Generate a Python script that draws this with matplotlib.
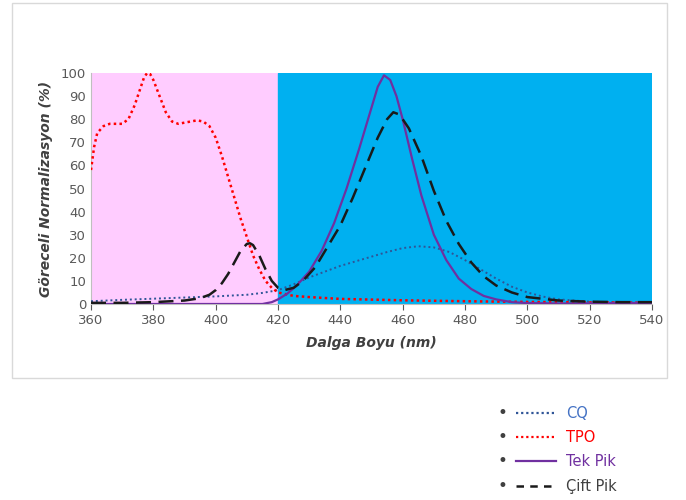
import matplotlib.pyplot as plt
from matplotlib.patches import Rectangle
from matplotlib.lines import Line2D

# Dalga boyu (nm) ve normalize edilmiş şiddet (%)
tpo_x = [360, 361, 362, 364, 366, 368, 370, 372, 374, 376, 377, 378, 379, 380, 382, 384, 386, 388,
         390, 392, 394, 396, 398, 400, 402, 404, 406, 408, 410, 412, 414, 416, 418, 420, 425,
         430, 440, 460, 480, 500, 520, 540]
tpo_y = [58, 68, 74, 77, 78, 78, 78, 80, 86, 94, 98, 100, 99.5, 97, 90, 83, 79, 78,
         78.5, 79, 79.5, 79, 77, 72, 64, 55, 46, 37, 29, 21, 15, 10, 7, 5, 3.5,
         3, 2.2, 1.6, 1.2, 0.9, 0.7, 0.5]

cq_x = [360, 370, 380, 390, 400, 410, 415, 420, 425, 430, 435, 440, 445, 450, 455, 460, 465, 470,
        475, 480, 485, 490, 495, 500, 505, 510, 520, 530, 540]
cq_y = [1.2, 1.8, 2.3, 2.8, 3.3, 4.0, 4.8, 6.0, 8.5, 11.5, 14, 16.5, 18.5, 20.5, 22.5, 24.2, 25, 24.5,
        22.5, 19, 15, 11, 7.5, 5, 3.2, 2, 1, 0.7, 0.5]

tek_x = [360, 380, 400, 410, 415, 418, 420, 423, 426, 430, 434, 438, 442, 446, 450, 452, 454, 456,
         458, 460, 463, 466, 470, 474, 478, 482, 486, 490, 495, 500, 510, 540]
tek_y = [0, 0, 0, 0, 0, 0.8, 2, 4.5, 8, 14, 23, 35, 50, 67, 85, 94, 99, 97,
         90, 80, 63, 47, 30, 19, 11, 6.5, 3.5, 2, 0.8, 0.4, 0.2, 0.5]

cift_x = [360, 370, 380, 390, 395, 398, 400, 402, 404, 406, 408, 410, 411, 412, 414, 416, 418, 420,
          422, 425, 428, 432, 436, 440, 444, 448, 452, 455, 457, 459, 462, 466, 470, 474, 478,
          482, 486, 490, 495, 500, 510, 520, 530, 540]
cift_y = [0.5, 0.5, 0.8, 1.5, 2.5, 4, 6, 9, 13, 18, 23, 26, 26.3, 25.5, 21, 15, 10, 7,
          6, 7, 10, 16, 25, 34, 46, 59, 72, 80, 83, 82, 76, 64, 49, 36, 26,
          18, 12, 8, 5, 3, 1.5, 1, 0.8, 0.8]

fig = plt.figure(figsize=(6.86, 5.0), dpi=100)
fig.patch.set_facecolor('white')

# çerçeve
fig.patches.append(Rectangle((12 / 686, 1 - 378 / 500), 655 / 686, 375 / 500,
                             transform=fig.transFigure, facecolor='none',
                             edgecolor='#d9d9d9', linewidth=1, zorder=-1))

ax = fig.add_axes([91 / 686, 1 - 304 / 500, 561 / 686, 231 / 500])
ax.set_xlim(360, 540)
ax.set_ylim(0, 100)

ax.axvspan(360, 420, color='#FFCCFF', zorder=0)
ax.axvspan(420, 540, color='#00B0F0', zorder=0)

ax.plot(cq_x, cq_y, color='#2F5597', linestyle=(0, (1, 1.5)), linewidth=1.4, zorder=3)
ax.plot(tpo_x, tpo_y, color='#FF0000', linestyle=(0, (1, 1.3)), linewidth=1.8, zorder=3)
ax.plot(tek_x, tek_y, color='#7030A0', linewidth=1.6, zorder=4)
ax.plot(cift_x, cift_y, color='#1a1a1a', linestyle=(0, (6, 3)), linewidth=1.8, zorder=5)

ax.set_xticks(range(360, 541, 20))
ax.set_yticks(range(0, 101, 10))
ax.tick_params(axis='both', colors='#595959', labelsize=9.5, length=4, width=0.8)
ax.tick_params(axis='y', length=0)
for s in ['top', 'right']:
    ax.spines[s].set_visible(False)
ax.spines['left'].set_color('#bfbfbf')
ax.spines['bottom'].set_color('#bfbfbf')

ax.set_xlabel('Dalga Boyu (nm)', fontsize=10, fontweight='bold', style='italic',
              color='#404040', labelpad=6)
ax.set_ylabel('Göreceli Normalizasyon (%)', fontsize=10, fontweight='bold', style='italic',
              color='#404040', labelpad=6)

# lejant
labels = ['CQ', 'TPO', 'Tek Pik', 'Çift Pik']
colors = ['#2F5597', '#FF0000', '#7030A0', '#1a1a1a']
text_colors = ['#4472C4', '#FF0000', '#7030A0', '#404040']
styles = [(0, (1, 1.3)), (0, (1, 1.3)), '-', (0, (3, 2.5))]
widths = [1.6, 1.6, 1.6, 1.8]
rows_y = [413, 437, 461, 486]
for lab, c, tc, ls, lw, py in zip(labels, colors, text_colors, styles, widths, rows_y):
    yy = 1 - py / 500
    fig.text(502 / 686, yy, '•', color='#404040', fontsize=12, ha='center', va='center')
    fig.add_artist(Line2D([516 / 686, 556 / 686], [yy, yy], transform=fig.transFigure,
                          color=c, linestyle=ls, linewidth=lw))
    fig.text(566 / 686, yy, lab, color=tc, fontsize=10.5, ha='left', va='center')

fig.savefig('out.png', dpi=100)
